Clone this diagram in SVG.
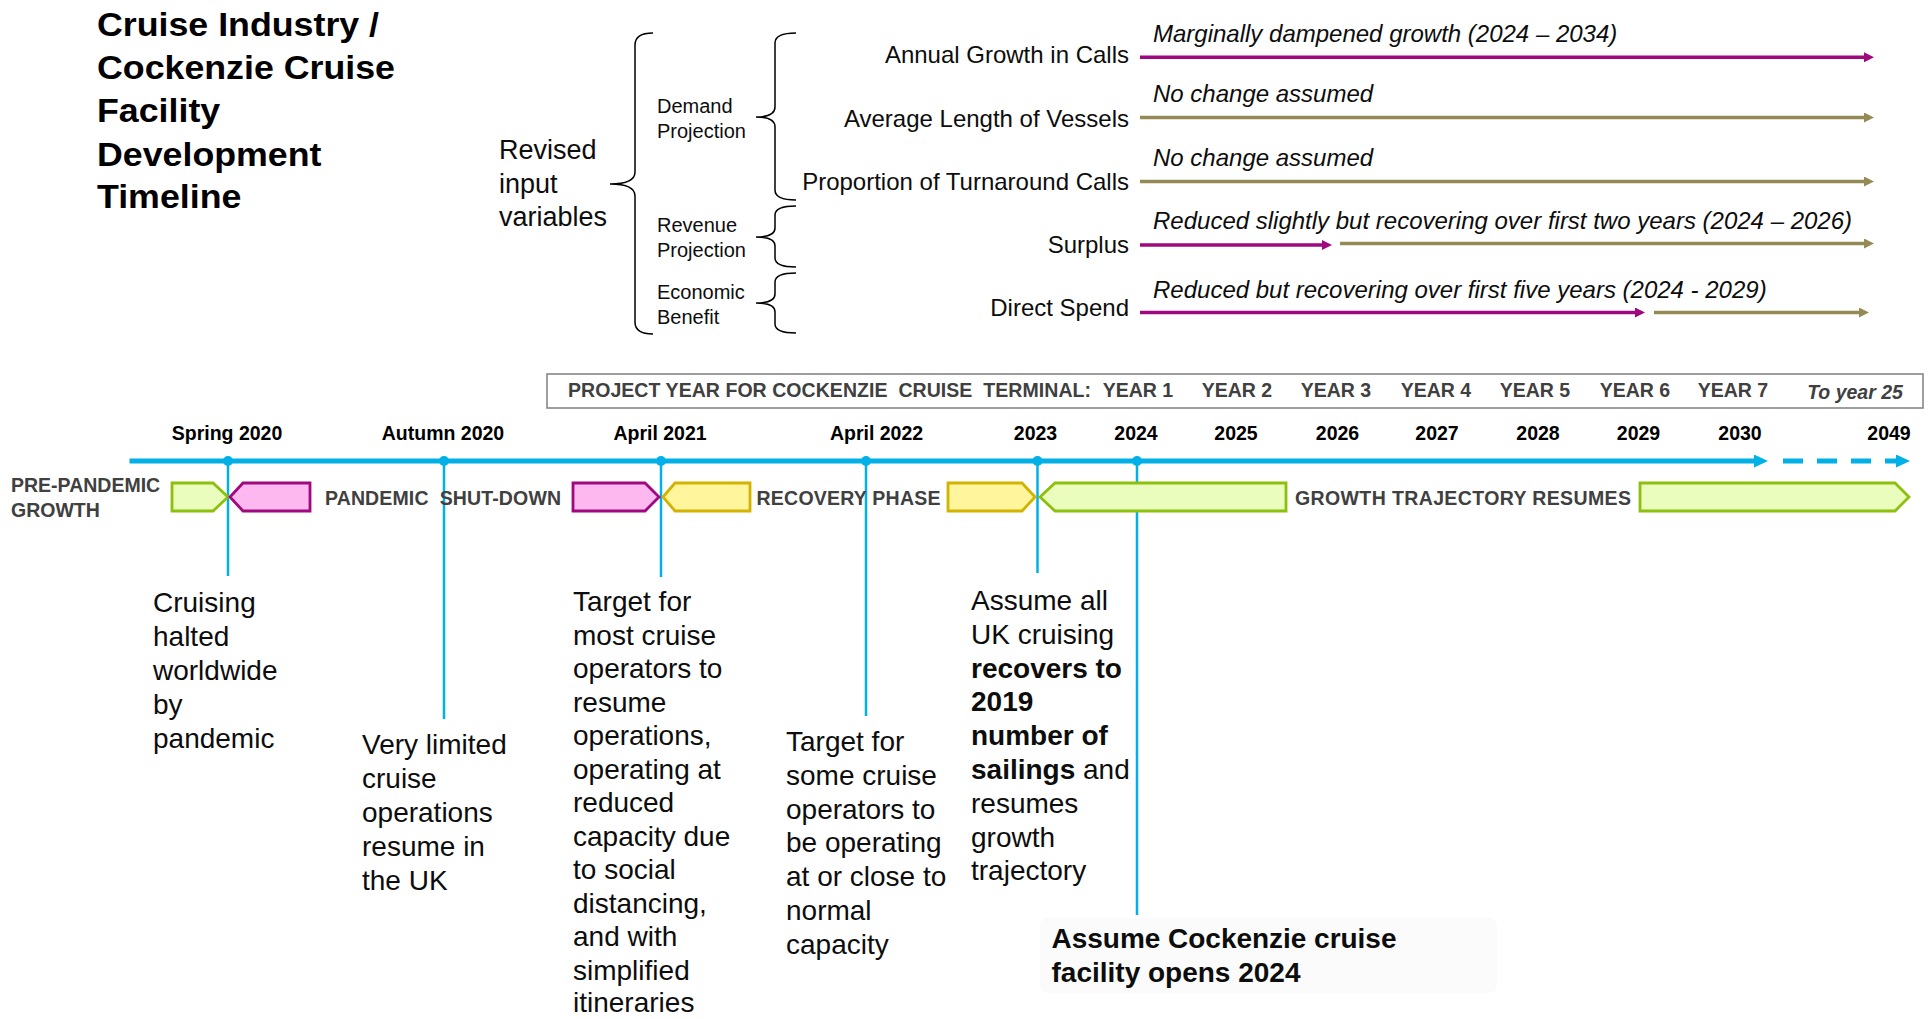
<svg xmlns="http://www.w3.org/2000/svg" width="1928" height="1019" viewBox="0 0 1928 1019">
<style>
text{font-family:"Liberation Sans",Arial,sans-serif}
.title{font-size:32.5px;font-weight:bold;fill:#000}
.body{font-size:28px;fill:#0D0D0D}
.bold{font-weight:bold}
.lbl{font-size:19.5px;font-weight:bold;fill:#404040}
.yr{font-size:19.5px;font-weight:bold;fill:#000;text-anchor:middle}
.py{font-size:19.5px;font-weight:bold;fill:#404040;text-anchor:middle}
.var{font-size:24px;fill:#0D0D0D;text-anchor:end}
.note{font-size:24px;font-style:italic;fill:#0D0D0D}
.sub{font-size:20px;fill:#0D0D0D}
.brace{fill:none;stroke:#000;stroke-width:1.5}
.mag{stroke:#A0087F;stroke-width:3.5;fill:none}
.olv{stroke:#948A54;stroke-width:3.5;fill:none}
.tl{stroke:#00B0E6;stroke-width:5;fill:none}
.vl{stroke:#00B0E6;stroke-width:2.5}
.dot{fill:#00B0E6}
.pink{fill:#FDB9EF;stroke:#A0087F;stroke-width:2.8}
.yel{fill:#FFF59C;stroke:#D2B300;stroke-width:2.8}
.grn{fill:#EAFDBC;stroke:#8CC00C;stroke-width:2.8}
</style>
<defs>
<marker id="aMag" markerUnits="userSpaceOnUse" markerWidth="10" markerHeight="10" refX="2" refY="5" orient="auto"><path d="M0,0 L10,5 L0,10 Z" fill="#A0087F"/></marker>
<marker id="aOlv" markerUnits="userSpaceOnUse" markerWidth="10" markerHeight="10" refX="2" refY="5" orient="auto"><path d="M0,0 L10,5 L0,10 Z" fill="#948A54"/></marker>
<marker id="aBlue" markerUnits="userSpaceOnUse" markerWidth="14" markerHeight="13" refX="2" refY="6.5" orient="auto"><path d="M0,0 L14,6.5 L0,13 Z" fill="#00B0E6"/></marker>
</defs>
<rect width="1928" height="1019" fill="#fff"/>

<g id="title" transform="scale(1.1,1)">
<text class="title" x="88.2" y="36">Cruise Industry /</text>
<text class="title" x="88.2" y="79">Cockenzie Cruise</text>
<text class="title" x="88.2" y="122">Facility</text>
<text class="title" x="88.2" y="166">Development</text>
<text class="title" x="88.2" y="208">Timeline</text>
</g>

<g id="revised-input">
<text x="499" y="158.5" font-size="27" fill="#0D0D0D">Revised</text>
<text x="499" y="192.5" font-size="27" fill="#0D0D0D">input</text>
<text x="499" y="226" font-size="27" fill="#0D0D0D">variables</text>
<path class="brace" d="M653,33 Q635,33 635,45 L635,172 Q635,184 610,184 Q635,184 635,196 L635,322 Q635,334 653,334"/>
</g>

<g id="demand-projection">
<text class="sub" x="657" y="113">Demand</text>
<text class="sub" x="657" y="138">Projection</text>
<path class="brace" d="M796,33 Q775,33 775,43 L775,107 Q775,117 756,117 Q775,117 775,127 L775,190 Q775,200 796,200"/>
</g>
<g id="revenue-projection">
<text class="sub" x="657" y="232">Revenue</text>
<text class="sub" x="657" y="257">Projection</text>
<path class="brace" d="M796,206 Q775,206 775,215 L775,228 Q775,237 756,237 Q775,237 775,246 L775,258 Q775,267 796,267"/>
</g>
<g id="economic-benefit">
<text class="sub" x="657" y="299">Economic</text>
<text class="sub" x="657" y="324">Benefit</text>
<path class="brace" d="M796,273 Q775,273 775,282 L775,294 Q775,303 756,303 Q775,303 775,312 L775,324 Q775,333 796,333"/>
</g>

<g id="var-annual-growth">
<text class="var" x="1129" y="62.5">Annual Growth in Calls</text>
<text class="note" x="1153" y="41.5">Marginally dampened growth (2024 – 2034)</text>
</g>
<g id="var-average-length">
<text class="var" x="1129" y="126.5">Average Length of Vessels</text>
<text class="note" x="1153" y="102">No change assumed</text>
</g>
<g id="var-turnaround">
<text class="var" x="1129" y="190">Proportion of Turnaround Calls</text>
<text class="note" x="1153" y="165.5">No change assumed</text>
</g>
<g id="var-surplus">
<text class="var" x="1129" y="253">Surplus</text>
<text class="note" x="1153" y="228.5">Reduced slightly but recovering over first two years (2024 – 2026)</text>
</g>
<g id="var-direct-spend">
<text class="var" x="1129" y="316">Direct Spend</text>
<text class="note" x="1153" y="297.5">Reduced but recovering over first five years (2024 - 2029)</text>
</g>

<g id="project-year">
<rect x="547" y="374" width="1376" height="34" fill="#fff" stroke="#7F7F7F" stroke-width="1.5"/>
<text class="lbl" x="568" y="397" xml:space="preserve" textLength="523">PROJECT YEAR FOR COCKENZIE  CRUISE  TERMINAL:</text>
<text class="py" x="1138" y="397">YEAR 1</text>
<text class="py" x="1237" y="397">YEAR 2</text>
<text class="py" x="1336" y="397">YEAR 3</text>
<text class="py" x="1436" y="397">YEAR 4</text>
<text class="py" x="1535" y="397">YEAR 5</text>
<text class="py" x="1635" y="397">YEAR 6</text>
<text class="py" x="1733" y="397">YEAR 7</text>
<text class="py" x="1855" y="399" font-style="italic">To year 25</text>
</g>

<g id="year-labels">
<text class="yr" x="227" y="440">Spring 2020</text>
<text class="yr" x="443" y="440">Autumn 2020</text>
<text class="yr" x="660" y="440">April 2021</text>
<text class="yr" x="876.5" y="440">April 2022</text>
<text class="yr" x="1035.5" y="440">2023</text>
<text class="yr" x="1136" y="440">2024</text>
<text class="yr" x="1236" y="440">2025</text>
<text class="yr" x="1337.5" y="440">2026</text>
<text class="yr" x="1437" y="440">2027</text>
<text class="yr" x="1538" y="440">2028</text>
<text class="yr" x="1638.5" y="440">2029</text>
<text class="yr" x="1740" y="440">2030</text>
<text class="yr" x="1889" y="440">2049</text>
</g>

<g id="connectors">
<line class="mag" x1="1140" y1="57.3" x2="1866" y2="57.3" marker-end="url(#aMag)"/>
<line class="olv" x1="1140" y1="117.5" x2="1866" y2="117.5" marker-end="url(#aOlv)"/>
<line class="olv" x1="1140" y1="181.5" x2="1866" y2="181.5" marker-end="url(#aOlv)"/>
<line class="mag" x1="1140" y1="245" x2="1324" y2="245" marker-end="url(#aMag)"/>
<line class="olv" x1="1340" y1="243.5" x2="1866" y2="243.5" marker-end="url(#aOlv)"/>
<line class="mag" x1="1140" y1="312.5" x2="1637" y2="312.5" marker-end="url(#aMag)"/>
<line class="olv" x1="1654" y1="312.5" x2="1861" y2="312.5" marker-end="url(#aOlv)"/>

<line class="tl" x1="129.5" y1="461" x2="1756" y2="461" marker-end="url(#aBlue)"/>
<line class="tl" x1="1783" y1="461" x2="1898" y2="461" stroke-dasharray="20 14" marker-end="url(#aBlue)"/>

<line class="vl" x1="228" y1="461" x2="228" y2="576"/>
<line class="vl" x1="444" y1="461" x2="444" y2="719"/>
<line class="vl" x1="661" y1="461" x2="661" y2="577"/>
<line class="vl" x1="866" y1="461" x2="866" y2="716"/>
<line class="vl" x1="1037.5" y1="461" x2="1037.5" y2="573"/>
<line class="vl" x1="1137" y1="461" x2="1137" y2="915"/>
<circle class="dot" cx="228" cy="461" r="5"/>
<circle class="dot" cx="444" cy="461" r="5"/>
<circle class="dot" cx="661" cy="461" r="5"/>
<circle class="dot" cx="866" cy="461" r="5"/>
<circle class="dot" cx="1037.5" cy="461" r="5"/>
<circle class="dot" cx="1137" cy="461" r="5"/>
</g>

<g id="phase-pre-pandemic">
<text class="lbl" x="11" y="492">PRE-PANDEMIC</text>
<text class="lbl" x="11" y="517">GROWTH</text>
<path class="grn" d="M172,483 L213,483 L228,497 L213,511 L172,511 Z"/>
</g>
<g id="phase-shutdown">
<path class="pink" d="M230,497 L243,483 L310,483 L310,511 L243,511 Z"/>
<text class="lbl" x="325" y="505" xml:space="preserve" textLength="236">PANDEMIC  SHUT-DOWN</text>
<path class="pink" d="M573,483 L645,483 L659,497 L645,511 L573,511 Z"/>
</g>
<g id="phase-recovery">
<path class="yel" d="M663,497 L675,483 L750,483 L750,511 L675,511 Z"/>
<text class="lbl" x="756.5" y="505" textLength="184">RECOVERY PHASE</text>
<path class="yel" d="M948,483 L1022,483 L1035,497 L1022,511 L948,511 Z"/>
</g>
<g id="phase-growth">
<path class="grn" d="M1040,497 L1055,483 L1286,483 L1286,511 L1055,511 Z"/>
<text class="lbl" x="1295" y="505" textLength="336">GROWTH TRAJECTORY RESUMES</text>
<path class="grn" d="M1640,483 L1895,483 L1909,497 L1895,511 L1640,511 Z"/>
</g>

<g id="note-spring-2020">
<text class="body" x="153" y="612">Cruising</text>
<text class="body" x="153" y="646">halted</text>
<text class="body" x="153" y="680">worldwide</text>
<text class="body" x="153" y="714">by</text>
<text class="body" x="153" y="748">pandemic</text>
</g>
<g id="note-autumn-2020">
<text class="body" x="362" y="754">Very limited</text>
<text class="body" x="362" y="788">cruise</text>
<text class="body" x="362" y="822">operations</text>
<text class="body" x="362" y="856">resume in</text>
<text class="body" x="362" y="890">the UK</text>
</g>
<g id="note-april-2021">
<text class="body" x="573" y="611">Target for</text>
<text class="body" x="573" y="644.5">most cruise</text>
<text class="body" x="573" y="678">operators to</text>
<text class="body" x="573" y="711.5">resume</text>
<text class="body" x="573" y="745">operations,</text>
<text class="body" x="573" y="778.5">operating at</text>
<text class="body" x="573" y="812">reduced</text>
<text class="body" x="573" y="845.5">capacity due</text>
<text class="body" x="573" y="879">to social</text>
<text class="body" x="573" y="912.5">distancing,</text>
<text class="body" x="573" y="946">and with</text>
<text class="body" x="573" y="979.5">simplified</text>
<text class="body" x="573" y="1012">itineraries</text>
</g>
<g id="note-april-2022">
<text class="body" x="786" y="751">Target for</text>
<text class="body" x="786" y="784.8">some cruise</text>
<text class="body" x="786" y="818.6">operators to</text>
<text class="body" x="786" y="852.4">be operating</text>
<text class="body" x="786" y="886.2">at or close to</text>
<text class="body" x="786" y="920">normal</text>
<text class="body" x="786" y="953.8">capacity</text>
</g>
<g id="note-2023">
<text class="body" x="971" y="610">Assume all</text>
<text class="body" x="971" y="643.8">UK cruising</text>
<text class="body bold" x="971" y="677.6">recovers to</text>
<text class="body bold" x="971" y="711.4">2019</text>
<text class="body bold" x="971" y="745.2">number of</text>
<text class="body" x="971" y="779"><tspan class="bold">sailings</tspan> and</text>
<text class="body" x="971" y="812.8">resumes</text>
<text class="body" x="971" y="846.6">growth</text>
<text class="body" x="971" y="880.4">trajectory</text>
</g>
<g id="note-2024">
<rect x="1040" y="918" width="457" height="75" rx="8" fill="#FBFBFB"/>
<text class="body bold" x="1051.5" y="948" textLength="345">Assume Cockenzie cruise</text>
<text class="body bold" x="1051.5" y="982">facility opens 2024</text>
</g>
</svg>
